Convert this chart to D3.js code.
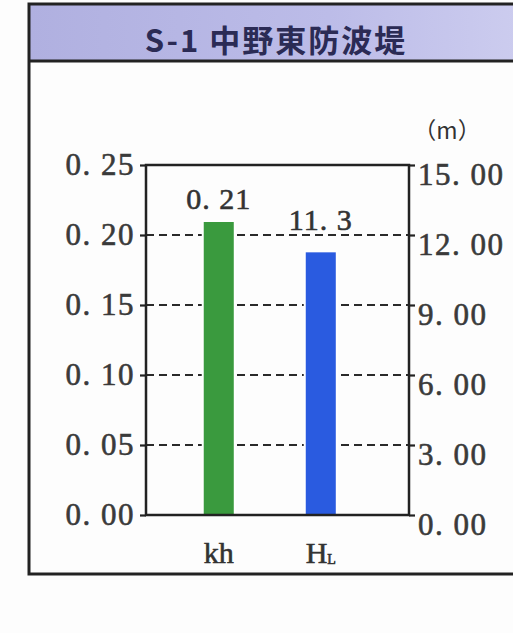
<!DOCTYPE html>
<html><head><meta charset="utf-8">
<script src="https://cdn.jsdelivr.net/npm/d3@7"></script>
<style>body{margin:0;background:#fdfdfd;}svg{display:block;}</style>
</head><body>
<script>
const title = "S-1 中野東防波堤";
const categories = ["kh", "HL"];
const leftValues = [0.21];          // kh (left axis)
const rightValues = [11.3];         // H_L (right axis, m)
const barLabels = ["0.21", "11.3"];
const leftTicks = [0.00, 0.05, 0.10, 0.15, 0.20, 0.25];
const rightTicks = [0, 3, 6, 9, 12, 15];
const gridTicks = [0.05, 0.10, 0.15, 0.20];
const unitLabel = "（m）";
const colors = ["#3a9a3e", "#2a5be0"];

const W = 513, H = 633;
const svg = d3.select("body").append("svg").attr("width", W).attr("height", H);
const defs = svg.append("defs");
const grad = defs.append("linearGradient").attr("id","ban").attr("x1","0").attr("x2","1");
grad.append("stop").attr("offset","0").attr("stop-color","#b0b0e0");
grad.append("stop").attr("offset","0.6").attr("stop-color","#bcbce8");
grad.append("stop").attr("offset","1").attr("stop-color","#cdcdef");

// outer frame + banner
svg.append("rect").attr("x",29).attr("y",4).attr("width",500).attr("height",56).attr("fill","url(#ban)");
svg.append("rect").attr("x",29).attr("y",4).attr("width",500).attr("height",570)
  .attr("fill","none").attr("stroke","#222").attr("stroke-width",3);
svg.append("line").attr("x1",29).attr("x2",529).attr("y1",61).attr("y2",61).attr("stroke","#222").attr("stroke-width",3);
svg.append("text").attr("x",276).attr("y",52).attr("text-anchor","middle")
  .attr("font-family","'Noto Sans CJK JP'").attr("font-weight","bold").attr("font-size",31)
  .attr("letter-spacing",2).attr("fill","#2b2b55").text(title);

const m = {l:146, r:409, t:165, b:515};
const yL = d3.scaleLinear().domain([0,0.25]).range([m.b, m.t]);
const yR = d3.scaleLinear().domain([0,15]).range([m.b, m.t]);
const x = d3.scaleBand().domain(categories).range([m.l, m.r])
  .paddingInner(0.686).paddingOuter(0.632).align(0.44);

const g = svg.append("g");
// dashed gridlines
g.selectAll(".grid").data(gridTicks).join("line")
  .attr("x1", m.l).attr("x2", m.r).attr("y1", d=>yL(d)).attr("y2", d=>yL(d))
  .attr("stroke","#2a2a2a").attr("stroke-width",2.2).attr("stroke-dasharray","8,5");

// bars
const barData = [
  {cat: categories[0], y: yL(leftValues[0]), label: barLabels[0], c: colors[0], gap: 12},
  {cat: categories[1], y: yR(rightValues[0]), label: barLabels[1], c: colors[1], gap: 21}
];
g.selectAll(".bar").data(barData).join("rect")
  .attr("x", d=>x(d.cat)).attr("width", x.bandwidth())
  .attr("y", d=>d.y).attr("height", d=>m.b - d.y)
  .attr("fill", d=>d.c).attr("stroke","#fff").attr("stroke-width",2);

const fmt = s => s.replace(".", ". ");
const numFont = "'Liberation Serif', 'DejaVu Serif', serif";
g.selectAll(".bl").data(barData).join("text")
  .attr("x", d=>x(d.cat)+x.bandwidth()/2).attr("y", d=>d.y - d.gap)
  .attr("text-anchor","middle").attr("font-family",numFont).attr("font-size",30)
  .attr("letter-spacing",1).attr("fill","#333").attr("stroke","#333").attr("stroke-width",0.6)
  .text(d=>fmt(d.label));

// frame
g.append("rect").attr("x",m.l).attr("y",m.t).attr("width",m.r-m.l).attr("height",m.b-m.t)
  .attr("fill","none").attr("stroke","#222").attr("stroke-width",2.5);

// axes
const axL = d3.axisLeft(yL).tickValues(leftTicks).tickSize(6).tickPadding(5)
  .tickFormat(d=>fmt(d3.format(".2f")(d)));
const axR = d3.axisRight(yR).tickValues(rightTicks).tickSize(6).tickPadding(3)
  .tickFormat(d=>fmt(d3.format(".2f")(d)));
const gl = svg.append("g").attr("transform",`translate(${m.l},0)`).call(axL);
const gr = svg.append("g").attr("transform",`translate(${m.r},0)`).call(axR);
[gl, gr].forEach(a=>{
  a.select(".domain").remove();
  a.selectAll(".tick line").attr("stroke","#222").attr("stroke-width",2.2);
  a.selectAll(".tick text").attr("font-family",numFont).attr("font-size",31)
    .attr("letter-spacing",1.5).attr("fill","#3a3a3a").attr("stroke","#3a3a3a").attr("stroke-width",0.6);
});
gr.selectAll(".tick text").attr("dy","0.62em");

svg.append("text").attr("x",447).attr("y",139).attr("text-anchor","middle")
  .attr("font-family","'Noto Sans CJK JP'").attr("font-size",23)
  .attr("fill","#333").text(unitLabel);

// category labels
const cl = svg.append("g").attr("font-family",numFont).attr("font-size",30).attr("fill","#333")
  .attr("stroke","#333").attr("stroke-width",0.6);
cl.append("text").attr("x", x(categories[0])+x.bandwidth()/2).attr("y",563)
  .attr("text-anchor","middle").text(categories[0]);
const t2 = cl.append("text").attr("x", x(categories[1])+x.bandwidth()/2).attr("y",563)
  .attr("text-anchor","middle");
t2.append("tspan").text(categories[1][0]);
t2.append("tspan").attr("font-size",14).attr("dy",1).text(categories[1].slice(1));
</script>
</body></html>
